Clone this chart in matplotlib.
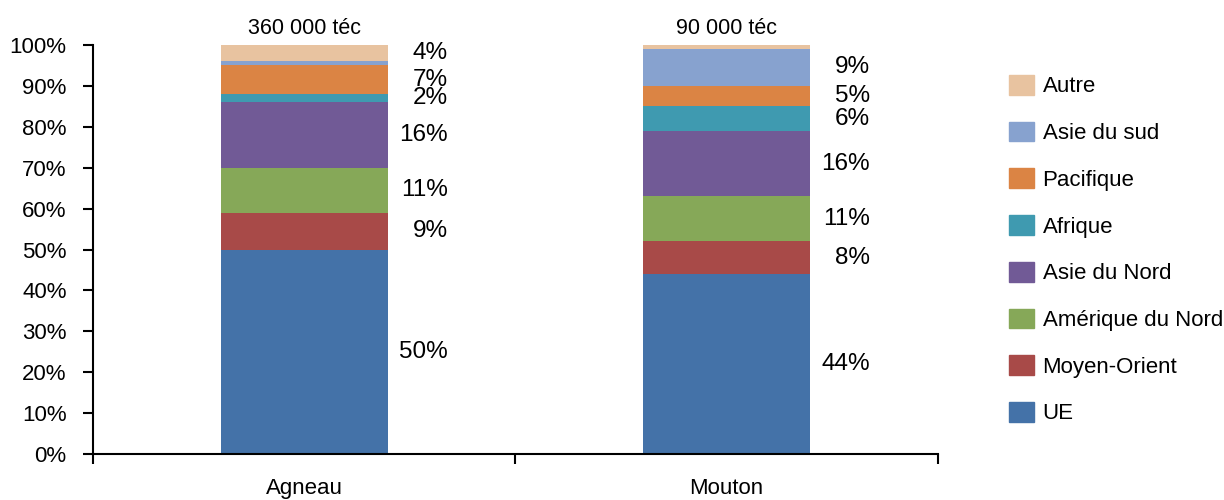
import numpy as np
import matplotlib
matplotlib.use("Agg")
import matplotlib.pyplot as plt
from matplotlib.patches import Patch

plt.rcParams['font.family'] = ['Liberation Sans', 'DejaVu Sans']

# parts de marché par destination (%)
categories = ["Agneau", "Mouton"]
totals = ["360 000 téc", "90 000 téc"]
regions = ["UE", "Moyen-Orient", "Amérique du Nord", "Asie du Nord",
           "Afrique", "Pacifique", "Asie du sud", "Autre"]
agneau = [50, 9, 11, 16, 2, 7, 1, 4]
mouton = [44, 8, 11, 16, 6, 5, 9, 1]
colors = ["#4472A8", "#A84A48", "#86A858", "#715A96",
          "#3F9AB0", "#DB8444", "#87A2CF", "#E8C3A0"]

shares = np.array([agneau, mouton]).T
x = np.arange(len(categories))
width = 0.395

fig = plt.figure(figsize=(12.24, 5.0), dpi=100)
ax = fig.add_axes([0.076, 0.092, 0.690, 0.818])

bottom = np.zeros(len(categories))
for i, reg in enumerate(regions):
    ax.bar(x, shares[i], width, bottom=bottom, color=colors[i], label=reg)
    for j in range(len(categories)):
        v = shares[i][j]
        if v >= 2:
            ax.text(x[j] + 0.34, bottom[j] + v / 2, "%d%%" % v,
                    ha='right', va='center', fontsize=17.5)
    bottom += shares[i]

for j in range(len(categories)):
    ax.annotate(totals[j], (x[j], 100), xytext=(0, 4), textcoords='offset points',
                ha='center', va='bottom', fontsize=15.5, annotation_clip=False)

ax.set_xlim(-0.5, 1.5)
ax.set_ylim(0, 100)
ax.set_yticks(np.arange(0, 101, 10))
ax.set_yticklabels(["%d%%" % t for t in range(0, 101, 10)])
ax.tick_params(axis='y', direction='out', length=7, width=1.5, pad=12, labelsize=16)

ax.set_xticks(x)
ax.set_xticklabels(categories)
ax.set_xticks([-0.5, 0.5, 1.5], minor=True)
ax.tick_params(axis='x', which='major', length=0, pad=17, labelsize=16)
ax.tick_params(axis='x', which='minor', direction='out', length=7, width=1.5)

for s in ['top', 'right']:
    ax.spines[s].set_visible(False)
for s in ['left', 'bottom']:
    ax.spines[s].set_linewidth(1.5)

handles = [Patch(color=colors[i], label=regions[i]) for i in range(len(regions))][::-1]
fig.legend(handles=handles, loc='upper left', bbox_to_anchor=(0.824, 0.85),
           frameon=False, fontsize=16, handlelength=1.13, handleheight=0.99,
           handletextpad=0.4, labelspacing=1.09, borderpad=0, borderaxespad=0)

fig.savefig("out.png", dpi=100)
